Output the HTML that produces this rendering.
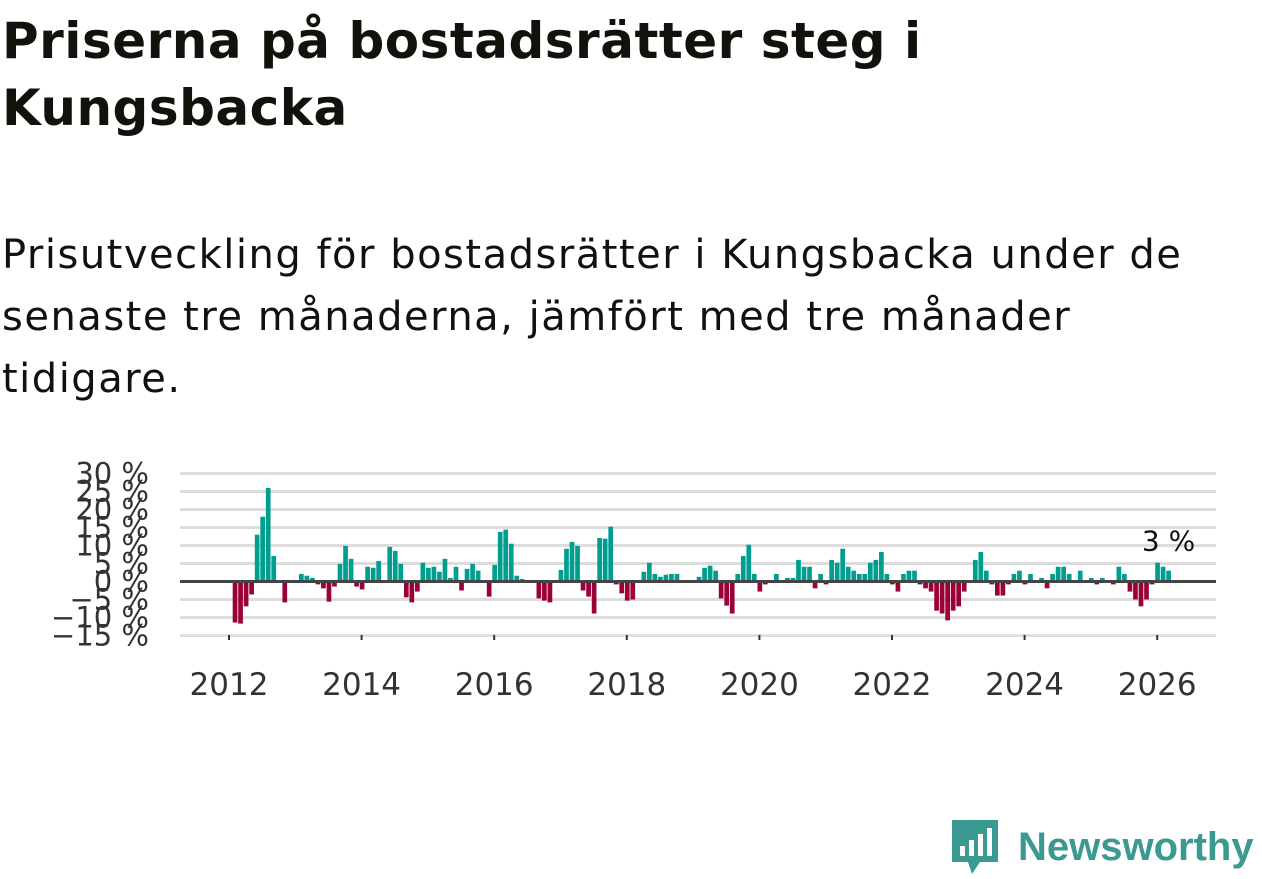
<!DOCTYPE html>
<html><head><meta charset="utf-8">
<style>
body{margin:0;width:1262px;height:879px;background:#fff;overflow:hidden;font-family:"DejaVu Sans",sans-serif;color:#111}
h1{position:absolute;left:2px;top:8px;margin:0;font-size:50px;line-height:67px;font-weight:bold;color:#12120c;letter-spacing:0.5px}
.sub{position:absolute;left:2px;top:224px;margin:0;font-size:40px;line-height:62px;color:#111;width:1200px;letter-spacing:1.5px}
svg{position:absolute;left:0;top:0}
.logo{position:absolute;left:950px;top:818px;display:flex;align-items:center}
.logo span{font-family:"Liberation Sans",sans-serif;font-size:40px;font-weight:bold;color:#3a9a92;margin-left:18px}
</style></head><body>
<h1>Priserna på bostadsrätter steg i<br>Kungsbacka</h1>
<p class="sub">Prisutveckling för bostadsrätter i Kungsbacka under de senaste tre månaderna, jämfört med tre månader tidigare.</p>
<svg id="chart" width="1262" height="879"></svg>
<div class="logo">
<svg width="50" height="58" viewBox="0 0 50 58" style="position:static"><path d="M2 2h46v42H30l-8 12-4-12H2z" fill="#3a9a92"/><rect x="10" y="28" width="5" height="10" fill="#fff"/><rect x="19" y="22" width="5" height="16" fill="#fff"/><rect x="28" y="16" width="5" height="22" fill="#fff"/><rect x="37" y="10" width="5" height="28" fill="#fff"/></svg>
<span>Newsworthy</span></div>
<script>
const values=[-11.4,-11.7,-6.9,-3.6,13.0,18.0,26.0,7.1,0,-5.8,0,0,2.1,1.6,1.0,-0.8,-1.9,-5.6,-1.4,4.9,9.9,6.3,-1.4,-2.2,
4.1,3.8,5.7,0,9.6,8.5,4.9,-4.4,-5.8,-2.8,5.2,3.8,4.1,2.7,6.3,1.0,4.1,-2.5,3.5,4.9,3.0,0,-4.2,4.6,
13.8,14.4,10.5,1.6,0.7,0,0,-4.7,-5.3,-5.8,0,3.2,9.1,11.0,9.9,-2.5,-4.2,-8.9,12.1,11.9,15.2,-0.8,-3.3,-5.3,
-5.0,0,2.7,5.2,2.1,1.3,1.9,2.1,2.1,0,0,0,1.3,3.8,4.4,3.0,-4.7,-6.7,-8.9,2.1,7.1,10.2,2.1,-2.8,
-0.8,0,2.1,0,1.0,1.0,6.0,4.1,4.1,-1.9,2.1,-0.8,6.0,5.2,9.1,4.1,3.0,2.1,2.1,5.2,6.0,8.2,2.1,-0.8,
-2.8,2.1,3.0,3.0,-0.8,-1.9,-2.8,-8.1,-8.9,-10.8,-8.1,-6.9,-2.8,0,6.0,8.2,3.0,-0.8,-3.9,-3.9,-0.8,2.1,3.0,-0.8,
2.1,0,1.0,-1.9,2.1,4.1,4.1,2.1,0,3.0,0,1.0,-0.8,1.0,0,-0.8,4.1,2.1,-2.8,-5.0,-6.9,-5.0,-0.8,5.2,4.1,3.0];
const yTicks=[30,25,20,15,10,5,0,-5,-10,-15];
const xTicks=[2012,2014,2016,2018,2020,2022,2024,2026];
const NS="http://www.w3.org/2000/svg",svg=document.getElementById('chart');
const y=v=>581.5-v*3.6;
const xYear=yr=>229+(yr-2012)*66.3;
const xMonth=i=>229+i*5.524;
function mk(t,a){const e=document.createElementNS(NS,t);for(const k in a)e.setAttribute(k,a[k]);svg.appendChild(e);return e;}
yTicks.forEach(v=>{
 if(v!==0){const g=mk('line',{x1:180,x2:1216,y1:y(v),y2:y(v),stroke:'#dcdcdc','stroke-width':3});
 
 }
 const t=mk('text',{x:149,y:y(v)+10,'text-anchor':'end','font-size':29,fill:'#333','font-family':'DejaVu Sans, sans-serif'});
 t.textContent=(v<0?'−'+(-v):v)+' %';
 
 
});
const bl=mk('line',{x1:180,x2:1216,y1:635,y2:635,stroke:'#e6e6e6','stroke-width':1});


xTicks.forEach(yr=>{
 const tk=mk('line',{x1:xYear(yr),x2:xYear(yr),y1:635,y2:640,stroke:'#333','stroke-width':2});
 
 
 const t=mk('text',{x:xYear(yr),y:695,'text-anchor':'middle','font-size':31,fill:'#333','font-family':'DejaVu Sans, sans-serif'});
 t.textContent=yr;
 
 
});
values.forEach((v,i)=>{
 if(v===0)return;
 const x=xMonth(i)+3.7;
 const r=mk('rect',{x:x,width:4.7,y:Math.min(y(v),y(0)),height:Math.abs(y(v)-y(0)),fill:v>0?'#009e8f':'#9b0038'});
 
 
});
const z=mk('line',{x1:180,x2:1216,y1:y(0),y2:y(0),stroke:'#444','stroke-width':3});


const last=values.length-1;
const lab=mk('text',{x:xMonth(last)+6,y:y(values[last])-20,'text-anchor':'middle','font-size':28,fill:'#111','font-family':'DejaVu Sans, sans-serif'});
lab.textContent=Math.round(values[last])+' %';


</script>
</body></html>
